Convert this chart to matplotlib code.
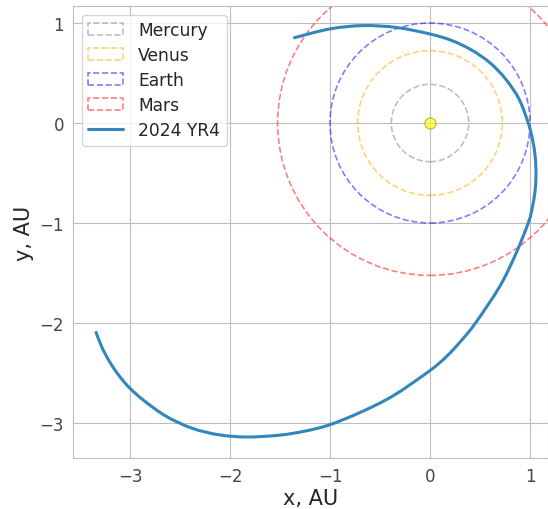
import matplotlib
matplotlib.use("Agg")
import matplotlib.pyplot as plt
import seaborn as sns
from matplotlib.patches import Circle, PathPatch
from matplotlib.path import Path
from matplotlib.lines import Line2D

# planet orbits (AU)
planets = ["Mercury", "Venus", "Earth", "Mars"]
radii = [0.387, 0.723, 1.0, 1.524]
colors = ["gray", "orange", "blue", "red"]

# 2024 YR4 path (AU)
yr4_x = [-3.343, -3.284, -3.208, -3.117, -3.01, -2.868, -2.64, -2.38, -2.11,
         -1.83, -1.50, -1.25, -1.01, -0.70, -0.367, 0.0, 0.165, 0.305, 0.455,
         0.70, 0.862, 0.986, 1.022, 1.048, 1.059, 1.058, 1.048, 1.022,
         0.9825, 0.89, 0.758, 0.601, 0.42, 0.22, 0.0, -0.333, -0.667, -1.0,
         -1.367]
yr4_y = [-2.083, -2.236, -2.381, -2.517, -2.643, -2.77, -2.932, -3.052,
         -3.118, -3.14, -3.121, -3.081, -3.02, -2.895, -2.727, -2.475,
         -2.335, -2.185, -2.0, -1.63, -1.30, -0.99, -0.85, -0.70, -0.56,
         -0.43, -0.30, -0.15, 0.0, 0.24, 0.4375, 0.601, 0.727, 0.824, 0.89,
         0.955, 0.974, 0.941, 0.85]

line_color = "#3286bc"


def smooth_path(xs, ys):
    """Catmull-Rom curve through the read points, as cubic Bezier segments."""
    pts = list(zip(xs, ys))
    pts = [pts[0]] + pts + [pts[-1]]
    verts = [pts[1]]
    codes = [Path.MOVETO]
    for i in range(1, len(pts) - 2):
        p0, p1, p2, p3 = pts[i - 1], pts[i], pts[i + 1], pts[i + 2]
        c1 = (p1[0] + (p2[0] - p0[0]) / 6, p1[1] + (p2[1] - p0[1]) / 6)
        c2 = (p2[0] - (p3[0] - p1[0]) / 6, p2[1] - (p3[1] - p1[1]) / 6)
        verts += [c1, c2, p2]
        codes += [Path.CURVE4] * 3
    return Path(verts, codes)


sns.set_style("whitegrid", {"grid.color": "#bdbdbd", "axes.edgecolor": "#bdbdbd"})
fig = plt.figure(figsize=(5.48, 5.10), dpi=100)
ax = fig.add_axes([73 / 548, 51 / 510, 475 / 548, 452 / 510])

handles = []
for name, r, c in zip(planets, radii, colors):
    circ = Circle((0, 0), r, fill=False, edgecolor=c, alpha=0.5,
                  linestyle="--", linewidth=1.2, label=name)
    ax.add_patch(circ)
    handles.append(circ)

ax.add_patch(PathPatch(smooth_path(yr4_x, yr4_y), fill=False,
                       edgecolor=line_color, linewidth=2.2, capstyle="butt"))
handles.append(Line2D([], [], color=line_color, linewidth=2.2, label="2024 YR4"))

ax.plot([0], [0], "o", markersize=8, color="yellow", alpha=0.6,
        markeredgecolor="#a0a000", markeredgewidth=1)

ax.set_xlim(-3.57, 1.18)
ax.set_ylim(-3.35, 1.17)
ax.set_aspect("equal")
ax.set_xticks([-3, -2, -1, 0, 1])
ax.set_yticks([-3, -2, -1, 0, 1])
ax.tick_params(labelsize=12, colors="#444444", pad=3)
ax.set_xlabel("x, AU", fontsize=15, labelpad=2)
ax.set_ylabel("y, AU", fontsize=15)
ax.legend(handles=handles, loc="upper left", fontsize=12.3,
          labelspacing=0.4, handletextpad=0.9)

fig.savefig("out.png", dpi=100)
